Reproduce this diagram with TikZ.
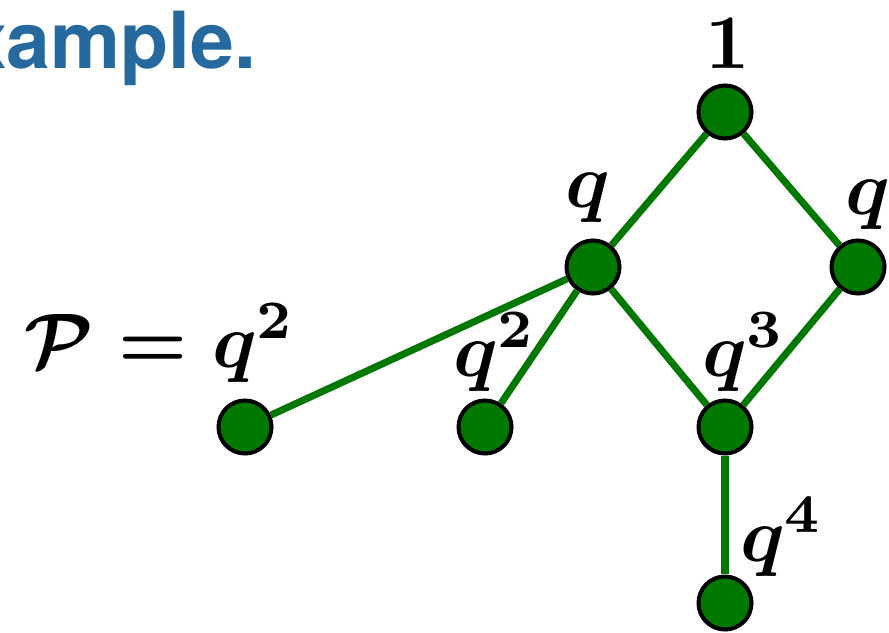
\documentclass[tikz,border=0pt]{standalone}
\usepackage{amsmath}
\usepackage{fontspec}
\newfontfamily\headfont{TeX Gyre Heros}
\usepackage{tikz}
\usetikzlibrary{positioning}
\definecolor{headblue}{RGB}{37,105,158}
\definecolor{posetgreen}{RGB}{0,120,0}

\begin{document}
\begin{tikzpicture}[
  elem/.style={circle, draw=black, fill=posetgreen, line width=1.15pt, inner sep=0pt, minimum size=0.53cm},
  edge/.style={draw=posetgreen, line width=2pt},
  lbl/.style={anchor=base, inner sep=0pt, scale=2.2, transform shape, font=\mathversion{bold}},
  heading/.style={anchor=base east, inner sep=0pt, text=headblue, font=\headfont\bfseries\fontsize{22.4}{26}\selectfont}
]
\clip (0,0) rectangle (8.89,-6.32);
\useasboundingbox (0,0) rectangle (8.89,-6.32);

\node[heading] (title) at (2.57,-0.68) {Example.};

% poset elements
\node[elem] (one) at (7.25,-1.12) {};
\node[elem] (qa) at (5.93,-2.67) {};
\node[elem] (qb) at (8.58,-2.67) {};
\node[elem] (qsqa) at (2.45,-4.27) {};
\node[elem] (qsqb) at (4.85,-4.27) {};
\node[elem] (qcube) at (7.25,-4.27) {};
\node[elem] (qfour) at (7.25,-6.03) {};

% labels
\node[lbl] (lone) at (7.28,-0.68) {$1$};
\node[lbl] (lqa) at (5.88,-2.07) {$q$};
\node[lbl] (lqb) at (8.68,-2.14) {$q$};
\node[lbl] (lqsqa) at (1.60,-3.67) {$\mathcal{P} = q^2$};
\node[lbl] (lqsqb) at (4.95,-3.76) {$q^2$};
\node[lbl] (lqcube) at (7.44,-3.76) {$q^3$};
\node[lbl] (lqfour) at (7.82,-5.61) {$q^4$};

\draw[edge] (one) -- (qa);
\draw[edge] (one) -- (qb);
\draw[edge] (qa) -- (qcube);
\draw[edge] (qb) -- (qcube);
\draw[edge] (qa) -- (qsqa);
\draw[edge] (qa) -- (qsqb);
\draw[edge] (qcube) -- (qfour);

\end{tikzpicture}
\end{document}
